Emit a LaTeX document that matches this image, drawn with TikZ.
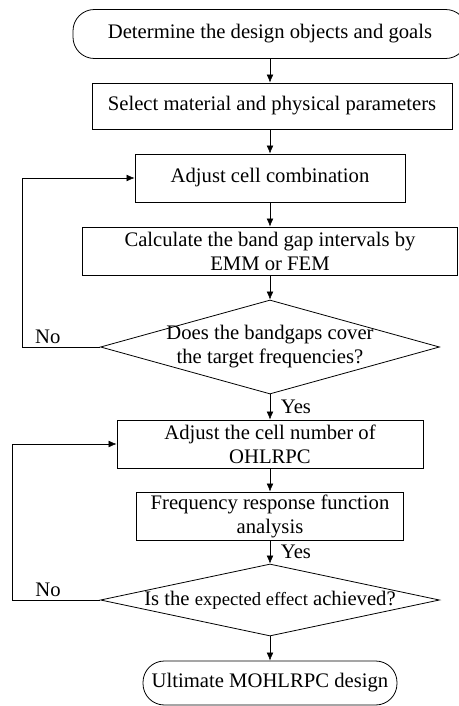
\documentclass[tikz,border=0pt]{standalone}
\usepackage{fontspec}
\setmainfont{Liberation Serif}
\usepackage{tikz}
\usetikzlibrary{arrows.meta, calc, positioning, shapes.geometric}
\tikzset{
    -{Latex[length=6pt,width=5pt]}, line width=1.1pt,
    x=0.75pt, y=-0.75pt,
    every node/.style={font=\fontsize{15.5}{18}\selectfont},
    term/.style ={rectangle, rounded corners=16pt, draw, line width=0.6pt, align=center},
    proc/.style ={rectangle, draw, line width=0.6pt, align=center, inner ysep=1pt, minimum height=36pt},
    cond/.style ={diamond, draw, line width=0.6pt, align=center, inner xsep=0pt, minimum width=254.25pt},
    el/.style = {inner sep=2pt}
    }

\begin{document}
\begin{tikzpicture}
    \useasboundingbox (0,0) rectangle (459,706);

    \node (start)  at (270,34)  [term, minimum width=295.5pt, minimum height=36.75pt] {Determine the design objects and goals};
    \node (select) at (272,106) [proc, minimum width=270pt, minimum height=34.5pt] {Select material and physical parameters};
    \node (combo)  at (270,178) [proc, minimum width=202.5pt] {Adjust cell combination};
    \node (calc)   at (270,251) [proc, minimum width=281.25pt] {Calculate the band gap intervals by\\EMM or FEM};
    \node (check1) at (270,347) [cond, aspect=3.6, inner ysep=-2.5pt, minimum height=70.5pt] {Does the bandgaps cover\\the target frequencies?};
    \node (adjust) at (270,444) [proc, minimum width=229.5pt] {Adjust the cell number of\\OHLRPC};
    \node (frf)    at (270,516) [proc, minimum width=200.25pt] {Frequency response function\\analysis};
    \node (check2) at (270,600) [cond, aspect=4.7, inner ysep=-1pt, minimum height=54pt] {Is the {\fontsize{14}{16}\selectfont expected effect} achieved?};
    \node (final)  at (270,683) [term, minimum width=190.5pt, minimum height=33pt] {Ultimate MOHLRPC design};

    \coordinate (back1) at (22,347);
    \coordinate (back2) at (12,600);

    \path (start) edge (start.south |- select.north);
    \path (start.south |- select.south) edge (combo);
    \path (combo) edge (calc);
    \path (calc) edge (check1);
    \path (check1) edge node[el, right, xshift=6pt] {Yes} (adjust);
    \path (adjust) edge (frf);
    \path (frf) edge node[el, right, xshift=6pt] {Yes} (check2);
    \path (check2) edge (final);

    \draw (check1.west) -- node[el, above, pos=0.67] {No} (back1) |- (combo.west);
    \draw (check2.west) -- node[el, above, pos=0.59] {No} (back2) |- (adjust.west);
\end{tikzpicture}
\end{document}
